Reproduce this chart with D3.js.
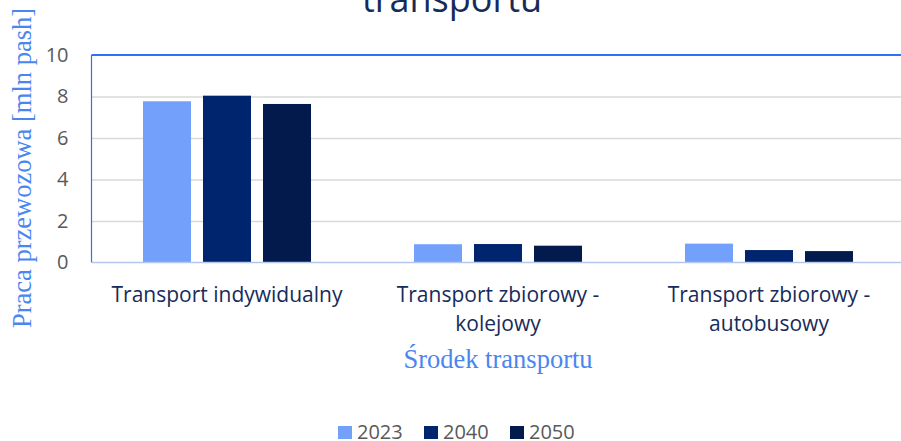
<!DOCTYPE html>
<html>
<head>
<meta charset="utf-8">
<style>
  body { margin: 0; background: #fff; }
  svg { display: block; }
  .tick text { font-family: "Open Sans"; font-size: 20px; fill: #595959; }
  .cat { font-family: "Open Sans"; font-size: 21px; fill: #172b5a; }
  .atitle { font-family: "Liberation Serif"; font-size: 26.5px; fill: #4a86f0; }
  .legend text { font-family: "Open Sans"; font-size: 20px; fill: #595959; }
</style>
</head>
<body>
<svg width="901" height="441"></svg>
<script src="https://cdn.jsdelivr.net/npm/d3@7"></script>
<script>
// data
var categories = ["Transport indywidualny", "Transport zbiorowy - kolejowy", "Transport zbiorowy - autobusowy"];
var catLines = [["Transport indywidualny"], ["Transport zbiorowy -", "kolejowy"], ["Transport zbiorowy -", "autobusowy"]];
var years = ["2023", "2040", "2050"];
var v2023 = [7.77, 0.88, 0.91];
var v2040 = [8.04, 0.89, 0.60];
var v2050 = [7.64, 0.81, 0.55];
var yTicks = [0, 2, 4, 6, 8, 10];
var colors = ["#72a0fb", "#00256f", "#021a4c"];

var series = [v2023, v2040, v2050];

var svg = d3.select("svg"),
    plotLeft = 91.5, plotRight = 904.5, plotTop = 55, plotBottom = 262.5;

var x0 = d3.scaleBand().domain(categories).range([plotLeft, plotRight]).paddingInner(0.38).paddingOuter(0.19);
var x1 = d3.scaleBand().domain(years).range([0, x0.bandwidth()]).paddingInner(0.2);
var y = d3.scaleLinear().domain([0, 10]).range([plotBottom, plotTop]);

// gridlines
svg.append("g")
    .attr("transform", "translate(" + plotLeft + ",0)")
    .call(d3.axisLeft(y).tickValues([2, 4, 6, 8]).tickSize(-(plotRight - plotLeft)).tickFormat(""))
    .call(function(g) { g.select(".domain").remove(); })
    .selectAll("line").attr("stroke", "#d9d9d9").attr("stroke-width", 1.5);

// tick labels
svg.append("g")
    .attr("transform", "translate(" + (plotLeft - 23) + ",0)")
    .call(d3.axisLeft(y).tickValues(yTicks).tickSize(0).tickPadding(0))
    .call(function(g) { g.select(".domain").remove(); });

// bars
var groups = svg.append("g").selectAll("g")
    .data(categories)
    .join("g")
    .attr("transform", function(d) { return "translate(" + x0(d) + ",0)"; });

groups.selectAll("rect")
    .data(function(d, i) { return years.map(function(yr, j) { return {year: yr, value: series[j][i], c: colors[j]}; }); })
    .join("rect")
    .attr("x", function(d) { return x1(d.year); })
    .attr("y", function(d) { return y(d.value); })
    .attr("width", x1.bandwidth())
    .attr("height", function(d) { return y(0) - y(d.value); })
    .attr("fill", function(d) { return d.c; });

// plot border: top + left blue, bottom axis light
svg.append("line").attr("x1", plotLeft).attr("x2", plotRight).attr("y1", plotTop).attr("y2", plotTop)
    .attr("stroke", "#2f72f2").attr("stroke-width", 2);
svg.append("line").attr("x1", plotLeft).attr("x2", plotLeft).attr("y1", plotTop).attr("y2", plotBottom)
    .attr("stroke", "#2f72f2").attr("stroke-width", 1.2);
svg.append("line").attr("x1", plotLeft).attr("x2", plotRight).attr("y1", plotBottom).attr("y2", plotBottom)
    .attr("stroke", "#b4c6ea").attr("stroke-width", 1.5);

// category labels
svg.append("g").selectAll("text")
    .data(categories)
    .join("text")
    .attr("class", "cat")
    .attr("text-anchor", "middle")
    .attr("y", 302)
    .each(function(d, i) {
      var cx = x0(d) + x0.bandwidth() / 2;
      d3.select(this).selectAll("tspan")
        .data(catLines[i])
        .join("tspan")
        .attr("x", cx)
        .attr("dy", function(t, k) { return k ? 28.5 : 0; })
        .text(function(t) { return t; });
    });

// chart title (first line falls above the visible area)
svg.append("text")
    .attr("x", 452).attr("y", 12)
    .attr("text-anchor", "middle")
    .style("font-family", "Open Sans").style("font-size", "36px").style("fill", "#172b5a")
    .text("transportu");

// axis titles
svg.append("text").attr("class", "atitle")
    .attr("x", (plotLeft + plotRight) / 2).attr("y", 368)
    .attr("text-anchor", "middle")
    .text("Środek transportu");

svg.append("text").attr("class", "atitle")
    .attr("transform", "translate(31,168) rotate(-90)")
    .attr("text-anchor", "middle")
    .text("Praca przewozowa [mln pash]");

// legend
var lg = svg.append("g").attr("class", "legend").selectAll("g")
    .data(years)
    .join("g")
    .attr("transform", function(d, i) { return "translate(" + (338 + i * 86) + ",426)"; });
lg.append("rect").attr("width", 14).attr("height", 13).attr("fill", function(d, i) { return colors[i]; });
lg.append("text").attr("x", 19).attr("y", 12.5).text(function(d) { return d; });
</script>
</body>
</html>
